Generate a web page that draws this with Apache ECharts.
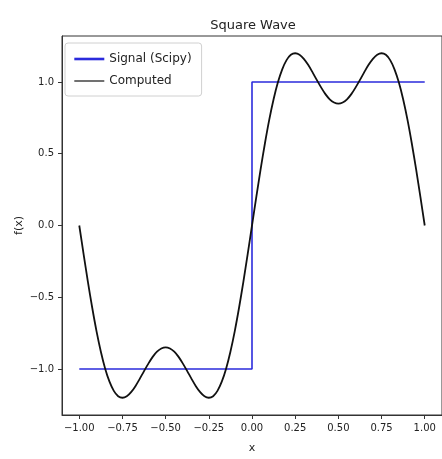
<!DOCTYPE html>
<html>
<head>
<meta charset="utf-8">
<script src="https://cdn.jsdelivr.net/npm/echarts@6/dist/echarts.min.js"></script>
<style>
  html, body { margin: 0; padding: 0; background: #fff; }
  #chart { width: 442px; height: 459px; }
</style>
</head>
<body>
<div id="chart"></div>
<script>
// x positions of the computed curve
const xValues = [
  -1, -0.975, -0.95, -0.925, -0.9, -0.875, -0.85, -0.825, -0.8, -0.775,
  -0.75, -0.725, -0.7, -0.675, -0.65, -0.625, -0.6, -0.575, -0.55, -0.525,
  -0.5, -0.475, -0.45, -0.425, -0.4, -0.375, -0.35, -0.325, -0.3, -0.275,
  -0.25, -0.225, -0.2, -0.175, -0.15, -0.125, -0.1, -0.075, -0.05, -0.025,
  0,
  0.025, 0.05, 0.075, 0.1, 0.125, 0.15, 0.175, 0.2, 0.225, 0.25,
  0.275, 0.3, 0.325, 0.35, 0.375, 0.4, 0.425, 0.45, 0.475, 0.5,
  0.525, 0.55, 0.575, 0.6, 0.625, 0.65, 0.675, 0.7, 0.725, 0.75,
  0.775, 0.8, 0.825, 0.85, 0.875, 0.9, 0.925, 0.95, 0.975, 1
];
const computedValues = [
  0, -0.199, -0.392, -0.573, -0.737, -0.879, -0.997, -1.088, -1.152, -1.189,
  -1.200, -1.190, -1.161, -1.119, -1.068, -1.014, -0.962, -0.915, -0.879, -0.857,
  -0.849, -0.857, -0.879, -0.915, -0.962, -1.014, -1.068, -1.119, -1.161, -1.190,
  -1.200, -1.189, -1.152, -1.088, -0.997, -0.879, -0.737, -0.573, -0.392, -0.199,
  0,
  0.199, 0.392, 0.573, 0.737, 0.879, 0.997, 1.088, 1.152, 1.189, 1.200,
  1.190, 1.161, 1.119, 1.068, 1.014, 0.962, 0.915, 0.879, 0.857, 0.849,
  0.857, 0.879, 0.915, 0.962, 1.014, 1.068, 1.119, 1.161, 1.190, 1.200,
  1.189, 1.152, 1.088, 0.997, 0.879, 0.737, 0.573, 0.392, 0.199, 0
];
// square wave from scipy
const signalX = [-1, 0, 0, 1];
const signalY = [-1, -1, 1, 1];

const xTicks = [-1, -0.75, -0.5, -0.25, 0, 0.25, 0.5, 0.75, 1];
const yTicks = [-1, -0.5, 0, 0.5, 1];

const font = 'DejaVu Sans';
const textColor = '#222';
const minus = (s) => s.replace('-', '\u2212');

const chart = echarts.init(document.getElementById('chart'), null, { renderer: 'canvas' });

chart.setOption({
  animation: false,
  backgroundColor: '#fff',
  title: {
    text: 'Square Wave',
    left: 248,
    top: 14,
    textAlign: 'center',
    textStyle: { fontFamily: font, fontSize: 13, fontWeight: 'normal', color: textColor },
  },
  legend: {
    left: 65,
    top: 43,
    orient: 'vertical',
    padding: [10, 10, 9, 8],
    itemGap: 10,
    itemWidth: 30,
    itemHeight: 14,
    borderColor: '#d0d0d0',
    borderWidth: 1,
    borderRadius: 3,
    backgroundColor: 'rgba(255,255,255,0.8)',
    // hide the circle marker, keep only the line sample
    itemStyle: { opacity: 0 },
    textStyle: { fontFamily: font, fontSize: 12, color: textColor },
    data: [
      { name: 'Signal (Scipy)', lineStyle: { width: 2.6 } },
      { name: 'Computed', lineStyle: { width: 1.2 } },
    ],
  },
  grid: {
    left: 62,
    right: -3,
    top: 36,
    bottom: 42,
    show: true,
    borderColor: '#333',
    borderWidth: 1,
    containLabel: false,
  },
  xAxis: {
    type: 'value',
    min: -1.1,
    max: 1.1,
    name: 'x',
    nameLocation: 'middle',
    nameGap: 28,
    nameTextStyle: { fontFamily: font, fontSize: 11, color: textColor },
    splitLine: { show: false },
    axisLine: { show: true, onZero: false, lineStyle: { color: '#333', width: 1 } },
    axisTick: { show: true, customValues: xTicks, length: 4, lineStyle: { color: '#333' } },
    axisLabel: {
      customValues: xTicks,
      margin: 8,
      fontFamily: font,
      fontSize: 10,
      color: textColor,
      formatter: (v) => minus(v.toFixed(2)),
    },
  },
  yAxis: {
    type: 'value',
    min: -1.32,
    max: 1.32,
    name: 'f(x)',
    nameLocation: 'middle',
    nameGap: 37,
    nameMoveOverlap: false,
    nameRotate: 90,
    nameTextStyle: { fontFamily: font, fontSize: 11, color: textColor },
    splitLine: { show: false },
    axisLine: { show: true, onZero: false, lineStyle: { color: '#333', width: 1 } },
    axisTick: { show: true, customValues: yTicks, length: 4, lineStyle: { color: '#333' } },
    axisLabel: {
      customValues: yTicks,
      margin: 8,
      fontFamily: font,
      fontSize: 10,
      color: textColor,
      formatter: (v) => minus(v.toFixed(1)),
    },
  },
  series: [
    {
      name: 'Signal (Scipy)',
      type: 'line',
      symbol: 'none',
      data: signalX.map((x, i) => [x, signalY[i]]),
      lineStyle: { color: '#2b2bdc', width: 1.6 },
      itemStyle: { color: '#2b2bdc' },
      z: 2,
    },
    {
      name: 'Computed',
      type: 'line',
      symbol: 'none',
      smooth: 0.3,
      data: xValues.map((x, i) => [x, computedValues[i]]),
      lineStyle: { color: '#111', width: 1.8 },
      itemStyle: { color: '#111' },
      z: 3,
    },
  ],
});
</script>
</body>
</html>
